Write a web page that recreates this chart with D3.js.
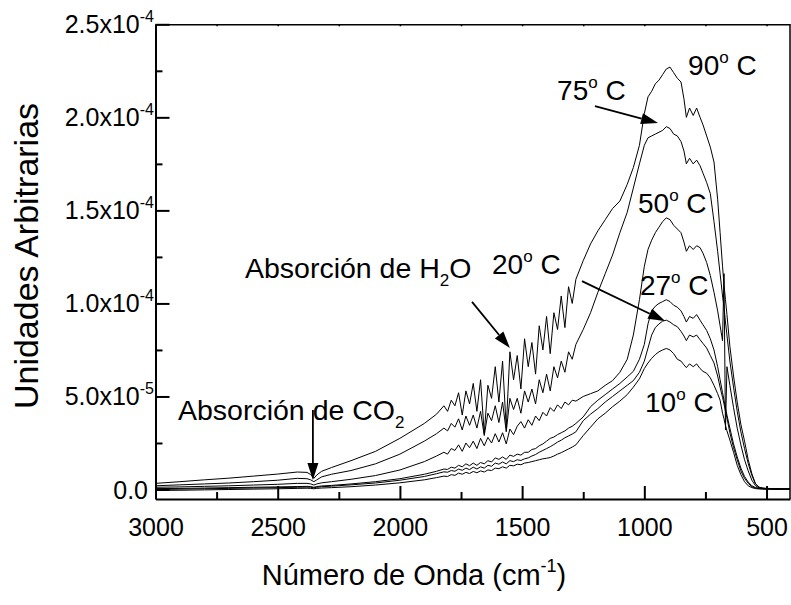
<!DOCTYPE html>
<html>
<head>
<meta charset="utf-8">
<script src="https://cdn.jsdelivr.net/npm/d3@7"></script>
<style>
body { margin: 0; background: #fff; }
svg { font-family: "Liberation Sans", Arial, sans-serif; }
</style>
</head>
<body>
<div id="chart"></div>
<script>
// wavenumber grid (cm-1) shared by every curve
var wavenumbers = [3000, 2900, 2800, 2700, 2600, 2500, 2420, 2380, 2365, 2352, 2340, 2320, 2280, 2200, 2100, 2000, 1900, 1850,
    1820, 1805, 1790, 1775, 1760, 1745, 1730, 1715, 1700, 1685, 1670, 1655, 1640, 1625, 1610, 1595, 1580, 1565, 1550, 1535,
    1520, 1505, 1490, 1475, 1460, 1445, 1430, 1415, 1400, 1385, 1370, 1355, 1340, 1325, 1310, 1295, 1280,
    1250, 1220, 1190, 1160, 1130, 1100, 1070, 1045, 1020, 1000, 985, 970, 955, 940, 925, 910, 895, 880, 865, 850,
    838, 828, 815, 800, 786, 772, 760, 745, 730, 715, 700, 690, 680, 674, 668, 662, 650, 635, 620, 605,
    590, 575, 560, 545, 530, 515, 500, 470, 440, 404];

// intensities, in units of 1e-5
var curve90 = [0.33, 0.42, 0.52, 0.61, 0.72, 0.83, 0.94, 0.92, 0.80, 0.60, 0.78, 0.98, 1.18, 1.55, 2.05, 2.75, 3.55, 4.05,
    4.5, 4.2, 4.8, 4.5, 5.2, 4.0, 5.3, 4.6, 5.7, 4.2, 5.9, 3.0, 5.6, 4.9, 6.6, 4.7, 6.9, 3.3, 7.4, 5.9,
    7.2, 5.4, 8.1, 6.6, 7.9, 6.2, 8.8, 7.5, 9.3, 7.3, 9.5, 8.6, 10.4, 8.7, 10.9, 10.0, 11.3,
    12.3, 13.2, 13.9, 14.5, 15.1, 15.5, 16.4, 17.3, 18.5, 20.2, 21.1, 21.4, 21.8, 22.0, 22.3, 22.6, 22.7, 22.4, 22.1, 21.9,
    21.0, 20.0, 20.5, 20.1, 20.5, 20.0, 19.6, 19.0, 18.4, 17.6, 15.6, 13.8, 12.0, 11.0, 10.2, 9.4, 7.7, 6.1, 4.7, 3.5,
    2.6, 1.6, 0.85, 0.3, 0.12, 0.08, 0.06, 0.05, 0.04, 0.04];
var curve75 = [0.20, 0.25, 0.30, 0.35, 0.42, 0.50, 0.60, 0.58, 0.52, 0.42, 0.52, 0.68, 0.82, 1.02, 1.38, 1.90, 2.60, 3.00,
    3.3, 3.15, 3.55, 3.35, 3.8, 3.2, 3.95, 3.45, 4.0, 3.3, 4.2, 2.9, 4.1, 3.7, 4.5, 3.6, 4.7, 3.1, 4.9, 4.3,
    4.9, 4.1, 5.3, 4.7, 5.4, 4.6, 5.9, 5.2, 6.2, 5.3, 6.6, 6.0, 6.9, 6.3, 7.4, 7.0, 7.8,
    8.6, 9.5, 10.6, 11.6, 12.6, 13.8, 14.9, 16.2, 17.5, 18.5, 18.9, 19.0, 19.1, 19.2, 19.3, 19.5, 19.4, 19.1, 19.0, 18.7,
    18.2, 17.5, 17.8, 17.5, 17.7, 17.4, 17.0, 16.5, 15.9, 14.4, 12.8, 11.6, 10.4, 9.8, 9.0, 8.3, 6.9, 5.5, 4.2, 3.1,
    2.2, 1.4, 0.75, 0.3, 0.12, 0.07, 0.05, 0.04, 0.03, 0.03];
var curve50 = [0.12, 0.14, 0.17, 0.20, 0.24, 0.28, 0.33, 0.33, 0.30, 0.24, 0.30, 0.36, 0.42, 0.55, 0.75, 1.05, 1.50, 1.80,
    2.0, 1.9, 2.2, 2.1, 2.4, 2.05, 2.5, 2.25, 2.6, 2.2, 2.75, 2.35, 2.8, 2.5, 3.0, 2.55, 3.05, 2.45, 3.25, 2.95,
    3.4, 3.65, 3.3, 3.75, 3.45, 3.95, 3.7, 4.15, 3.95, 4.4, 4.2, 4.55, 4.35, 4.7, 4.55, 4.8, 4.75,
    5.0, 5.15, 5.3, 5.6, 5.85, 6.3, 7.0, 8.3, 10.2, 12.0, 12.9, 13.4, 13.8, 14.1, 14.4, 14.6, 14.5, 14.2, 14.0, 13.8,
    13.3, 12.8, 13.1, 12.9, 13.1, 13.0, 12.7, 12.2, 11.5, 10.6, 9.6, 8.8, 8.0, 11.6, 3.2, 6.6, 5.6, 4.4, 3.3, 2.4,
    1.6, 1.0, 0.5, 0.2, 0.08, 0.05, 0.04, 0.03, 0.02, 0.02];
var curve27 = [0.05, 0.06, 0.08, 0.10, 0.12, 0.14, 0.16, 0.17, 0.16, 0.12, 0.16, 0.19, 0.22, 0.30, 0.42, 0.58, 0.82, 0.98,
    1.1, 1.08, 1.2, 1.15, 1.3, 1.22, 1.38, 1.28, 1.42, 1.3, 1.45, 1.38, 1.55, 1.48, 1.7, 1.62, 1.75, 1.62, 1.85, 1.78,
    1.9, 1.85, 2.0, 2.0, 2.15, 2.2, 2.35, 2.45, 2.6, 2.75, 2.82, 2.95, 3.05, 3.15, 3.3, 3.4, 3.55,
    3.9, 4.45, 4.8, 5.1, 5.4, 5.7, 6.05, 6.35, 7.0, 7.8, 8.9, 9.6, 9.85, 10.0, 10.1, 10.2, 10.1, 9.9, 9.8, 9.6,
    9.3, 9.0, 9.3, 9.2, 9.4, 9.1, 8.85, 8.55, 8.1, 7.5, 6.6, 5.9, 5.2, 4.8, 4.4, 4.0, 3.3, 2.45, 1.75, 1.15,
    0.7, 0.4, 0.2, 0.1, 0.06, 0.05, 0.04, 0.03, 0.03, 0.03];
var curve20 = [0.00, 0.02, 0.04, 0.06, 0.08, 0.10, 0.12, 0.13, 0.12, 0.09, 0.12, 0.15, 0.18, 0.25, 0.35, 0.50, 0.70, 0.85,
    0.95, 0.93, 1.02, 0.98, 1.1, 1.03, 1.15, 1.07, 1.2, 1.1, 1.22, 1.15, 1.3, 1.25, 1.42, 1.36, 1.48, 1.38, 1.55, 1.5,
    1.6, 1.56, 1.65, 1.7, 1.8, 1.88, 2.0, 2.1, 2.2, 2.3, 2.42, 2.55, 2.65, 2.78, 2.88, 2.98, 3.1,
    3.7, 4.05, 4.35, 4.7, 5.0, 5.3, 5.6, 5.85, 6.3, 6.9, 7.6, 8.3, 8.7, 8.9, 9.05, 9.1, 9.0, 8.85, 8.75, 8.5,
    8.25, 8.0, 8.3, 8.2, 8.3, 8.05, 7.85, 7.6, 7.2, 6.8, 6.1, 5.5, 4.95, 4.6, 4.2, 3.85, 3.05, 2.25, 1.6, 1.0,
    0.6, 0.33, 0.15, 0.08, 0.05, 0.04, 0.03, 0.02, 0.02, 0.02];
var curve10 = [-0.05, -0.04, -0.02, 0.00, 0.02, 0.04, 0.06, 0.07, 0.06, 0.04, 0.06, 0.08, 0.10, 0.15, 0.24, 0.36, 0.52, 0.64,
    0.72, 0.7, 0.8, 0.76, 0.88, 0.82, 0.92, 0.86, 0.97, 0.9, 1.0, 0.94, 1.05, 1.02, 1.15, 1.12, 1.22, 1.15, 1.3, 1.27,
    1.36, 1.33, 1.42, 1.45, 1.5, 1.55, 1.6, 1.65, 1.68, 1.72, 1.8, 1.9, 1.98, 2.08, 2.18, 2.28, 2.4,
    2.9, 3.35, 3.8, 4.1, 4.45, 4.75, 5.1, 5.5, 5.95, 6.5, 6.8, 7.05, 7.25, 7.4, 7.5, 7.58, 7.5, 7.3, 7.0, 6.9,
    6.7, 6.55, 6.75, 6.6, 6.75, 6.5, 6.35, 6.25, 6.0, 5.6, 5.15, 4.8, 4.1, 3.8, 3.45, 3.15, 2.66, 2.0, 1.3, 0.8,
    0.42, 0.2, 0.1, 0.05, 0.03, 0.02, 0.02, 0.01, 0.01, 0.01];

var xTicks = [3000, 2500, 2000, 1500, 1000, 500];
var xMinorTicks = [2750, 2250, 1750, 1250, 750];
var yTicks = [0, 5, 10, 15, 20, 25];
var yMinorTicks = [2.5, 7.5, 12.5, 17.5, 22.5];
var yTickMantissa = ["0.0", "5.0x10", "1.0x10", "1.5x10", "2.0x10", "2.5x10"];
var yTickExponent = ["", "-5", "-4", "-4", "-4", "-4"];

// temperature labels and arrows, placed in data units
var tempLabels = [
    {t: "90", wn: 821, v: 22.27},
    {t: "75", wn: 1357, v: 20.93},
    {t: "50", wn: 1026, v: 14.86},
    {t: "20", wn: 1623, v: 11.58},
    {t: "27", wn: 1018, v: 10.45},
    {t: "10", wn: 997, v: 4.16}
];
var arrows = [
    {wn1: 1202, v1: 20.6, wn2: 944, v2: 19.7},
    {wn1: 1255, v1: 11.2, wn2: 915, v2: 9.05},
    {wn1: 2356, v1: 4.27, wn2: 2356, v2: 0.51},
    {wn1: 1705, v1: 10.08, wn2: 1550, v2: 7.6}
];

var svg = d3.select("#chart").append("svg")
    .attr("width", 791)
    .attr("height", 605);

var x = d3.scaleLinear().domain([3000, 404]).range([155.5, 790]);
var y = d3.scaleLinear().domain([-0.51, 25]).range([499, 24.3]);

svg.append("clipPath").attr("id", "plot")
    .append("rect")
    .attr("x", 155.5).attr("y", 24.3)
    .attr("width", 790 - 155.5).attr("height", 499 - 24.3);

var line = d3.line()
    .x(function (d, i) { return x(wavenumbers[i]); })
    .y(function (d) { return y(d); });

[curve90, curve75, curve50, curve27, curve20, curve10].forEach(function (c) {
    svg.append("path")
        .datum(c)
        .attr("clip-path", "url(#plot)")
        .attr("fill", "none")
        .attr("stroke", "#000")
        .attr("stroke-width", 1)
        .attr("d", line);
});

// frame top and right
svg.append("g")
    .attr("transform", "translate(0,24.3)")
    .call(d3.axisTop(x).tickValues(xTicks.concat(xMinorTicks)).tickSize(-2).tickSizeOuter(0).tickFormat(""))
    .call(function (g) { g.selectAll("path, line").attr("stroke-width", 1.5); });
svg.append("line")
    .attr("x1", 790).attr("x2", 790)
    .attr("y1", 24.3).attr("y2", 499)
    .attr("stroke", "#000").attr("stroke-width", 1.5);

// bottom axis
var bottom = svg.append("g").attr("transform", "translate(0,499)");
bottom.call(d3.axisBottom(x).tickValues(xTicks).tickSize(-13).tickSizeOuter(0).tickPadding(19).tickFormat(d3.format("d")));
bottom.append("g")
    .call(d3.axisBottom(x).tickValues(xMinorTicks).tickSize(-7).tickFormat(""))
    .select(".domain").remove();
bottom.selectAll("path, line").attr("stroke-width", 2);
bottom.selectAll("text").attr("font-size", 25).attr("font-family", "Liberation Sans, Arial, sans-serif").attr("fill", "#000");

// left axis
var left = svg.append("g").attr("transform", "translate(155.5,0)");
left.call(d3.axisLeft(y).tickValues(yTicks).tickSize(-14).tickSizeOuter(0).tickFormat(""));
left.append("g")
    .call(d3.axisLeft(y).tickValues(yMinorTicks).tickSize(-7).tickFormat(""))
    .select(".domain").remove();
left.selectAll("path, line").attr("stroke-width", 2);

yTicks.forEach(function (v, i) {
    var label = svg.append("text")
        .attr("x", yTickExponent[i] ? 154 : 148)
        .attr("y", y(v) + 9)
        .attr("text-anchor", "end")
        .attr("font-size", 25);
    label.append("tspan").text(yTickMantissa[i]);
    if (yTickExponent[i]) {
        label.append("tspan").attr("font-size", 16).attr("dy", -11).text(yTickExponent[i]);
    }
});

// axis titles
var xTitle = svg.append("text")
    .attr("x", 414).attr("y", 585)
    .attr("text-anchor", "middle")
    .attr("font-size", 29);
xTitle.append("tspan").text("Número de Onda (cm");
xTitle.append("tspan").attr("font-size", 18).attr("dy", -13).text("-1");
xTitle.append("tspan").attr("dy", 13).text(")");

svg.append("text")
    .attr("transform", "translate(38,256) rotate(-90)")
    .attr("text-anchor", "middle")
    .attr("font-size", 34)
    .text("Unidades Arbitrarias");

// annotations
tempLabels.forEach(function (d) {
    var t = svg.append("text")
        .attr("x", x(d.wn)).attr("y", y(d.v))
        .attr("font-size", 28);
    t.append("tspan").text(d.t);
    t.append("tspan").attr("font-size", 17).attr("dy", -12).text("o");
    t.append("tspan").attr("dy", 12).text(" C");
});

var h2o = svg.append("text")
    .attr("x", x(2634)).attr("y", y(11.36))
    .attr("font-size", 28.5);
h2o.append("tspan").text("Absorción de H");
h2o.append("tspan").attr("font-size", 17).attr("dy", 8).text("2");
h2o.append("tspan").attr("dy", -8).text("O");

var co2 = svg.append("text")
    .attr("x", x(2908)).attr("y", y(3.73))
    .attr("font-size", 28.5);
co2.append("tspan").text("Absorción de CO");
co2.append("tspan").attr("font-size", 17).attr("dy", 8).text("2");

arrows.forEach(function (a) {
    var x1 = x(a.wn1), y1 = y(a.v1), x2 = x(a.wn2), y2 = y(a.v2);
    var len = Math.hypot(x2 - x1, y2 - y1);
    var ux = (x2 - x1) / len, uy = (y2 - y1) / len;
    var headLen = 17, headW = 5.5;
    var bx = x2 - ux * headLen, by = y2 - uy * headLen;
    svg.append("line")
        .attr("x1", x1).attr("y1", y1)
        .attr("x2", bx).attr("y2", by)
        .attr("stroke", "#000").attr("stroke-width", 1.8);
    svg.append("path")
        .attr("d", "M" + x2 + "," + y2 +
            "L" + (bx - uy * headW) + "," + (by + ux * headW) +
            "L" + (bx + uy * headW) + "," + (by - ux * headW) + "Z")
        .attr("fill", "#000");
});
</script>
</body>
</html>
